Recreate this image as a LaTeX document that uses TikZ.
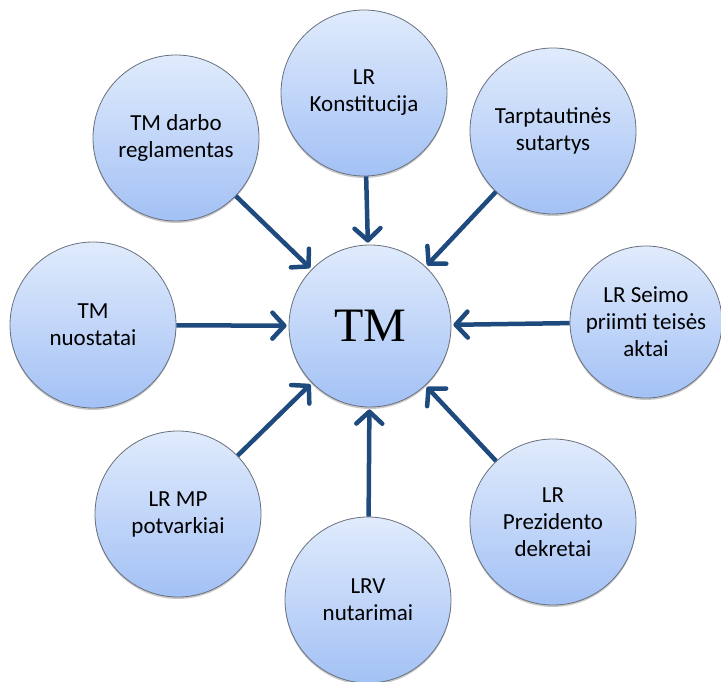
\documentclass[tikz,border=0pt]{standalone}
\usepackage{fontspec}
\setmainfont{Carlito}
\newfontfamily\serifTM{Liberation Serif}
\usetikzlibrary{arrows.meta,shadows}
\definecolor{bubbleTop}{RGB}{224,235,252}
\definecolor{bubbleBot}{RGB}{163,193,245}
\definecolor{bubbleEdge}{RGB}{105,112,125}
\definecolor{arrowBlue}{RGB}{31,74,126}
\begin{document}
\begin{tikzpicture}[x=1pt,y=-1pt,
  bubble/.style={circle, draw=bubbleEdge, line width=0.8pt,
    top color=bubbleTop, bottom color=bubbleBot,
    minimum size=166pt, inner sep=0pt, align=center,
    font=\fontsize{23}{27}\selectfont,
    drop shadow={shadow xshift=0pt, shadow yshift=-2pt, opacity=0.3, fill=black!70}},
  hub/.style={bubble, minimum size=162pt, font=\fontsize{48}{50}\serifTM},
  feed/.style={draw=arrowBlue, line width=4.5pt, shorten >=2pt, line join=round,
    -{Straight Barb[length=12pt,width=26pt,round]}}]
\useasboundingbox (0,0) rectangle (721,682);

% central body
\node[hub] (tm) at (370,326) {TM};

% surrounding sources
\node[bubble] (konst) at (364,93) {LR\\Konstitucija};
\node[bubble] (regl)  at (176,138) {TM darbo\\reglamentas};
\node[bubble] (sut)   at (553,131) {Tarptautinės\\sutartys};
\node[bubble] (nuost) at (93,325) {TM\\nuostatai};
\node[bubble, minimum size=152pt] (seim) at (646,322) {LR Seimo\\priimti teisės\\aktai};
\node[bubble] (mp)    at (178,514) {LR MP\\potvarkiai};
\node[bubble] (lrv)   at (368,600) {LRV\\nutarimai};
\node[bubble] (prez)  at (553,522) {LR\\Prezidento\\dekretai};

% connectors into the hub
\draw[feed] (konst) -- (tm);
\draw[feed] (regl) -- (tm);
\draw[feed] (sut) -- (tm);
\draw[feed] (nuost) -- (tm);
\draw[feed] (seim) -- (tm);
\draw[feed] (mp) -- (tm);
\draw[feed] (lrv) -- (tm);
\draw[feed] (prez) -- (tm);
\end{tikzpicture}
\end{document}
